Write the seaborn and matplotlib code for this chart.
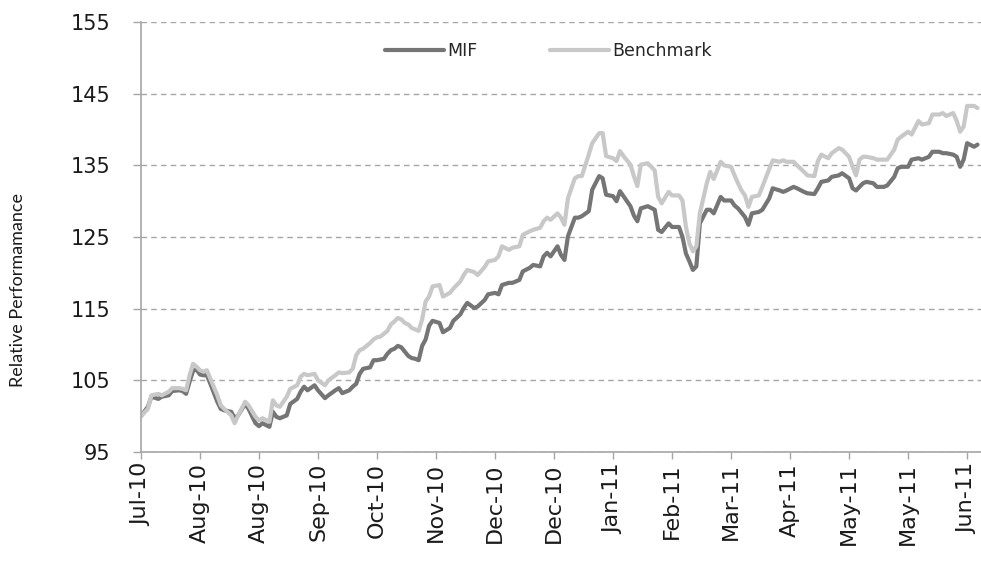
import matplotlib
matplotlib.use("Agg")
import matplotlib.pyplot as plt
import pandas as pd
import seaborn as sns

# -----------------------------
# Data
# x = trading day since start, one category tick every 17 days
# -----------------------------
days = [0, 2, 3, 5, 6, 8, 9, 11, 12, 13, 14, 15, 16, 17, 18, 19, 20, 22, 23, 24,
        26, 27, 28, 30, 31, 33, 34, 35, 37, 38, 39, 40, 42, 43, 45, 46, 47, 48, 50, 51,
        53, 54, 56, 57, 58, 60, 61, 62, 63, 64, 66, 67, 68, 69, 70, 71, 72, 73, 74, 75,
        76, 77, 78, 79, 80, 81, 82, 83, 84, 86, 87, 89, 90, 92, 93, 94, 96, 97, 99, 100,
        102, 103, 104, 106, 107, 109, 110, 112, 113, 115, 116, 117, 118, 120, 121, 122, 123, 125, 126, 127,
        129, 130, 132, 133, 134, 136, 137, 138, 139, 141, 142, 143, 144, 146, 148, 149, 150, 152, 153, 155,
        156, 157, 158, 159, 160, 161, 163, 164, 165, 167, 168, 170, 171, 172, 173, 174, 175, 176, 178, 179,
        181, 182, 184, 185, 186, 188, 189, 191, 192, 194, 195, 196, 198, 199, 201, 202, 204, 205, 206, 207,
        208, 209, 211, 212, 214, 215, 217, 218, 219, 221, 222, 224, 225, 227, 228, 230, 231, 232, 234, 235,
        236, 237, 238, 240, 241]

mif = [100.0, 101.3, 102.7, 102.4, 102.7, 102.9, 103.5, 103.6, 103.5, 103.1, 104.8, 106.3, 106.5, 105.8, 105.7, 105.7, 104.5, 102.0, 101.0, 100.8,
       100.6, 99.7, 100.1, 101.7, 101.0, 99.0, 98.6, 99.0, 98.5, 100.6, 99.9, 99.7, 100.1, 101.7, 102.4, 103.4, 104.1, 103.6, 104.3, 103.6,
       102.5, 102.9, 103.6, 103.9, 103.2, 103.6, 104.1, 104.5, 105.9, 106.6, 106.8, 107.8, 107.8, 107.9, 108.0, 108.7, 109.2, 109.4, 109.8, 109.6,
       109.0, 108.4, 108.1, 108.0, 107.8, 109.8, 110.7, 112.6, 113.3, 113.0, 111.7, 112.3, 113.3, 114.2, 115.1, 115.8, 115.1, 115.3, 116.2, 117.0,
       117.2, 117.0, 118.3, 118.6, 118.6, 119.0, 120.2, 120.7, 121.1, 120.9, 122.3, 122.8, 122.3, 123.7, 122.5, 121.8, 125.1, 127.7, 127.7, 127.9,
       128.6, 131.6, 133.5, 133.2, 130.9, 130.7, 130.0, 131.4, 130.7, 129.3, 128.0, 127.2, 129.0, 129.3, 128.8, 126.0, 125.7, 126.9, 126.4, 126.4,
       125.0, 122.7, 121.6, 120.4, 120.9, 126.9, 128.8, 128.8, 128.3, 130.6, 130.1, 130.1, 129.4, 129.0, 128.4, 127.8, 126.7, 128.3, 128.5, 128.8,
       130.4, 131.8, 131.5, 131.3, 131.5, 132.0, 131.8, 131.3, 131.1, 131.0, 131.8, 132.7, 132.9, 133.4, 133.6, 133.9, 133.2, 131.8, 131.5, 132.0,
       132.5, 132.7, 132.5, 132.0, 132.0, 132.2, 133.4, 134.6, 134.8, 134.8, 135.8, 136.0, 135.8, 136.2, 136.9, 136.9, 136.7, 136.7, 136.5, 136.2,
       134.8, 135.8, 138.1, 137.6, 137.9]

benchmark = [100.0, 101.0, 102.9, 103.1, 102.9, 103.4, 103.9, 103.9, 103.8, 103.6, 105.7, 107.3, 106.9, 106.4, 106.2, 106.4, 105.2, 102.9, 101.5, 101.0,
             100.1, 99.0, 100.1, 102.0, 101.5, 99.9, 99.4, 99.7, 99.2, 102.2, 101.5, 101.3, 102.7, 103.8, 104.3, 105.5, 105.9, 105.7, 105.9, 105.0,
             104.3, 105.0, 105.7, 106.1, 106.0, 106.1, 106.6, 108.5, 109.2, 109.4, 110.2, 110.7, 111.0, 111.1, 111.5, 111.9, 112.8, 113.2, 113.7, 113.5,
             113.0, 112.8, 112.3, 112.1, 111.9, 113.5, 116.0, 116.7, 118.1, 118.3, 116.7, 117.2, 117.8, 118.8, 119.7, 120.4, 120.1, 119.7, 120.8, 121.6,
             121.8, 122.3, 123.7, 123.2, 123.5, 123.7, 125.3, 125.8, 126.0, 126.3, 127.2, 127.7, 127.4, 128.3, 127.7, 126.7, 130.4, 133.2, 133.5, 133.5,
             136.5, 138.1, 139.5, 139.5, 136.3, 136.0, 135.6, 137.0, 136.3, 135.1, 133.5, 132.1, 135.1, 135.3, 134.3, 130.6, 129.7, 131.3, 130.8, 130.8,
             130.1, 126.4, 124.1, 123.0, 123.7, 128.3, 132.5, 134.1, 133.1, 135.5, 135.0, 134.8, 133.6, 132.5, 131.5, 130.8, 129.2, 130.6, 130.8, 132.0,
             134.5, 135.7, 135.5, 135.7, 135.5, 135.5, 135.0, 134.1, 133.6, 133.5, 135.6, 136.5, 136.0, 136.7, 137.4, 137.2, 136.2, 134.8, 133.6, 135.8,
             136.2, 136.2, 136.0, 135.8, 135.8, 135.8, 137.2, 138.6, 139.0, 139.7, 139.3, 141.2, 140.7, 140.9, 142.1, 142.1, 142.3, 141.9, 142.3, 141.2,
             139.7, 140.4, 143.3, 143.3, 143.0]

tick_labels = ['Jul-10', 'Aug-10', 'Aug-10', 'Sep-10', 'Oct-10', 'Nov-10', 'Dec-10', 'Dec-10',
               'Jan-11', 'Feb-11', 'Mar-11', 'Apr-11', 'May-11', 'May-11', 'Jun-11']
days_per_tick = 17
y_ticks = [95, 105, 115, 125, 135, 145, 155]

series_order = ['MIF', 'Benchmark']
colors = {'MIF': '#757575', 'Benchmark': '#c8c8c8'}

df = pd.DataFrame({'day': days, 'MIF': mif, 'Benchmark': benchmark})
long_df = df.melt(id_vars='day', var_name='Series', value_name='Value')

# -----------------------------
# Plot
# -----------------------------
sns.set_style('white')
plt.rcParams['font.family'] = ['DejaVu Sans']

fig, ax = plt.subplots(figsize=(9.81, 5.67), dpi=100)
fig.subplots_adjust(left=0.1437, right=1.0, top=0.961, bottom=0.203)

sns.lineplot(data=long_df, x='day', y='Value', hue='Series', hue_order=series_order,
             palette=colors, linewidth=3, ax=ax)

ax.set_xlim(0, 242)
ax.set_ylim(95, 155)
ax.set_yticks(y_ticks)
ax.set_xticks([i * days_per_tick for i in range(len(tick_labels))])
ax.set_xticklabels(tick_labels, rotation=90)

ax.set_xlabel('')
ax.set_ylabel('Relative Performamance', fontsize=13, family=['Lato', 'DejaVu Sans'],
              color='#1a1a1a')
ax.yaxis.set_label_coords(-0.137, 0.377)

ax.yaxis.grid(True, linestyle=(0, (4, 3)), color='#a6a6a6', linewidth=1)
ax.xaxis.grid(False)
ax.set_axisbelow(True)

for side in ['top', 'right']:
    ax.spines[side].set_visible(False)
for side in ['left', 'bottom']:
    ax.spines[side].set_color('#a6a6a6')
    ax.spines[side].set_linewidth(1.2)

ax.tick_params(axis='y', which='major', length=6, width=1, color='#a6a6a6',
               direction='out', pad=16, labelsize=15, labelcolor='#1a1a1a', left=True)
ax.tick_params(axis='x', which='major', length=5, width=1, color='#a6a6a6',
               direction='out', pad=3, labelsize=16, labelcolor='#1a1a1a', bottom=True)

handles, labels = ax.get_legend_handles_labels()
ax.legend(handles, labels, loc='center', bbox_to_anchor=(0.485, 0.933), ncol=2,
          frameon=False, handlelength=3.4, handletextpad=0.15, columnspacing=4.2,
          fontsize=12.5)

plt.savefig('out.png', dpi=100)
plt.close()
